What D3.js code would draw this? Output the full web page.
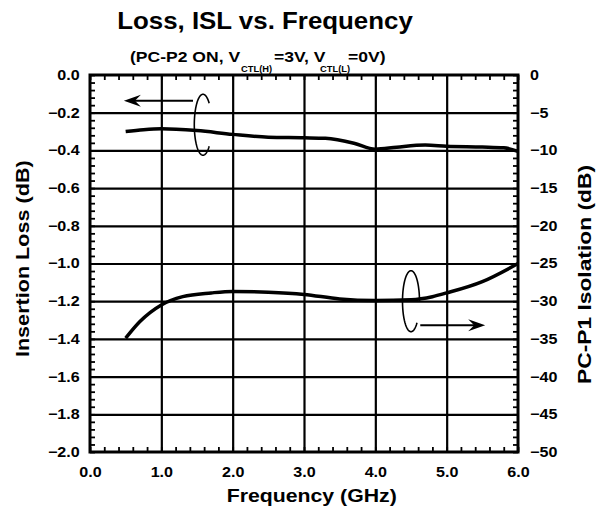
<!DOCTYPE html>
<html>
<head>
<meta charset="utf-8">
<script src="https://cdn.jsdelivr.net/npm/d3@7"></script>
<style>
  body { margin: 0; background: #fff; }
  svg text { font-family: "Liberation Sans", Arial, sans-serif; font-weight: bold; fill: #000; }
</style>
</head>
<body>
<svg id="chart" width="598" height="514"></svg>
<script>
// Insertion loss (left axis) and isolation (right axis) vs frequency

const freqIL = [0.5, 0.75, 1.0, 1.5, 2.0, 2.5, 3.0, 3.3, 3.7, 4.0, 4.3, 4.7, 5.0, 5.5, 5.8, 6.0];
const lossIL = [-0.30, -0.29, -0.285, -0.295, -0.315, -0.33, -0.333, -0.336, -0.362, -0.394, -0.383, -0.372, -0.378, -0.382, -0.386, -0.405];

const freqISL = [0.5, 0.7, 1.0, 1.3, 1.7, 2.0, 2.5, 3.0, 3.5, 4.0, 4.5, 4.8, 5.0, 5.5, 6.0];
const isoISL = [-34.9, -32.7, -30.5, -29.4, -28.9, -28.7, -28.8, -29.1, -29.7, -29.9, -29.8, -29.4, -28.9, -27.4, -25.0];

const xTicks = [0, 1, 2, 3, 4, 5, 6];
const yLeftTicks = [0, -0.2, -0.4, -0.6, -0.8, -1.0, -1.2, -1.4, -1.6, -1.8, -2.0];
const yRightTicks = [0, -5, -10, -15, -20, -25, -30, -35, -40, -45, -50];

// subtitle pieces: [text, x, subscript?]
const subtitleParts = [
    ["(PC-P2 ON, V", 130, false],
    ["CTL(H)", 241, true],
    ["=3V, V", 274, false],
    ["CTL(L)", 320, true],
    ["=0V)", 348, false]
];

const svg = d3.select("#chart");
const m = {left: 90, right: 518, top: 75, bottom: 452};
const stretch = 1.15; // the original lettering is a bit wider than Arial

const x = d3.scaleLinear().domain([0, 6]).range([m.left, m.right]);
const yL = d3.scaleLinear().domain([-2, 0]).range([m.bottom, m.top]);
const yR = d3.scaleLinear().domain([-50, 0]).range([m.bottom, m.top]);

// grid lines
svg.append("g")
    .attr("transform", `translate(0,${m.bottom})`)
    .call(d3.axisBottom(x).tickValues([1, 2, 3, 4, 5]).tickSize(-(m.bottom - m.top)).tickFormat(""))
    .call(g => g.select(".domain").remove())
    .selectAll("line").attr("stroke", "#000").attr("stroke-width", 2.2);

svg.append("g")
    .attr("transform", `translate(${m.left},0)`)
    .call(d3.axisLeft(yL).tickValues(yLeftTicks.slice(1, -1)).tickSize(-(m.right - m.left)).tickFormat(""))
    .call(g => g.select(".domain").remove())
    .selectAll("line").attr("stroke", "#000").attr("stroke-width", 2.2);

// minor ticks, pointing inward
const minorX = d3.range(0, 6.001, 0.2);
const minorYL = d3.range(-2, 0.001, 0.04);
const minorYR = d3.range(-50, 0.001, 1);

function minor(g) {
    g.select(".domain").remove();
    g.selectAll("line").attr("stroke", "#000").attr("stroke-width", 1.8);
}

svg.append("g").attr("transform", `translate(0,${m.bottom})`)
    .call(d3.axisBottom(x).tickValues(minorX).tickSize(-5).tickFormat("")).call(minor);
svg.append("g").attr("transform", `translate(0,${m.top})`)
    .call(d3.axisTop(x).tickValues(minorX).tickSize(-5).tickFormat("")).call(minor);
svg.append("g").attr("transform", `translate(${m.left},0)`)
    .call(d3.axisLeft(yL).tickValues(minorYL).tickSize(-5).tickFormat("")).call(minor);
svg.append("g").attr("transform", `translate(${m.right},0)`)
    .call(d3.axisRight(yR).tickValues(minorYR).tickSize(-5).tickFormat("")).call(minor);

// frame
svg.append("rect")
    .attr("x", m.left).attr("y", m.top)
    .attr("width", m.right - m.left).attr("height", m.bottom - m.top)
    .attr("fill", "none").attr("stroke", "#000").attr("stroke-width", 3);

// tick labels
function labels(g) {
    g.select(".domain").remove();
    g.selectAll("line").remove();
    g.selectAll("text")
        .attr("font-size", "14px").attr("font-family", null)
        .attr("transform", `scale(${stretch},1)`);
}

svg.append("g").attr("transform", `translate(${m.left},0)`)
    .call(d3.axisLeft(yL).tickValues(yLeftTicks).tickSize(0).tickPadding(9).tickFormat(d3.format(".1f")))
    .call(labels);
svg.append("g").attr("transform", `translate(${m.right},0)`)
    .call(d3.axisRight(yR).tickValues(yRightTicks).tickSize(0).tickPadding(10.5).tickFormat(d3.format("d")))
    .call(labels);
svg.append("g").attr("transform", `translate(0,${m.bottom})`)
    .call(d3.axisBottom(x).tickValues(xTicks).tickSize(0).tickPadding(15).tickFormat(d3.format(".1f")))
    .call(labels);

// curves
const lineIL = d3.line().x((d, i) => x(freqIL[i])).y(d => yL(d)).curve(d3.curveMonotoneX);
const lineISL = d3.line().x((d, i) => x(freqISL[i])).y(d => yR(d)).curve(d3.curveMonotoneX);

svg.append("path").datum(lossIL).attr("d", lineIL)
    .attr("fill", "none").attr("stroke", "#000").attr("stroke-width", 3.5);
svg.append("path").datum(isoISL).attr("d", lineISL)
    .attr("fill", "none").attr("stroke", "#000").attr("stroke-width", 3.5);

// loop + arrow annotations
function loop(cx, cy, rx, ry, a0, a1) {
    const pts = d3.range(a0, a1 + 0.01, 3).map(a => {
        const t = a * Math.PI / 180;
        return [cx + rx * Math.cos(t), cy - ry * Math.sin(t)];
    });
    svg.append("path").attr("d", d3.line()(pts))
        .attr("fill", "none").attr("stroke", "#000").attr("stroke-width", 1.6);
}

function arrow(x0, x1, y, dir) {
    svg.append("line").attr("x1", x0).attr("x2", x1 - dir * 8).attr("y1", y).attr("y2", y)
        .attr("stroke", "#000").attr("stroke-width", 2);
    const len = 17, half = 6;
    svg.append("path")
        .attr("d", `M${x1},${y} L${x1 - dir * len},${y - half} L${x1 - dir * (len - 6)},${y} L${x1 - dir * len},${y + half} Z`)
        .attr("fill", "#000");
}

loop(x(1.584), yL(-0.264), 8.7, 30.5, 45, 315);
arrow(x(1.444), x(0.475), yL(-0.136), -1);

loop(x(4.5), yR(-30), 8.5, 30.5, 0, 315);
arrow(x(4.63), x(5.54), yR(-33.2), 1);

// titles
function label(tx, ty, size, s, rot, txt, anchor) {
    return svg.append("text")
        .attr("transform", `translate(${tx},${ty})${rot ? " rotate(-90)" : ""} scale(${s},1)`)
        .attr("text-anchor", anchor || "middle")
        .attr("font-size", size + "px")
        .text(txt);
}

label(265, 29.3, 23, 1.125, false, "Loss, ISL vs. Frequency");

subtitleParts.forEach(([t, px, isSub]) => {
    label(px, isSub ? 71.5 : 62, isSub ? 8.5 : 15, isSub ? 1.1 : 1.17, false, t, "start");
});

label(311.7, 501.5, 18.5, 1.15, false, "Frequency (GHz)");
label(29, 258.7, 18, 1.2, true, "Insertion Loss (dB)");
label(590.5, 274.5, 19, 1.2, true, "PC-P1 Isolation (dB)");
</script>
</body>
</html>
